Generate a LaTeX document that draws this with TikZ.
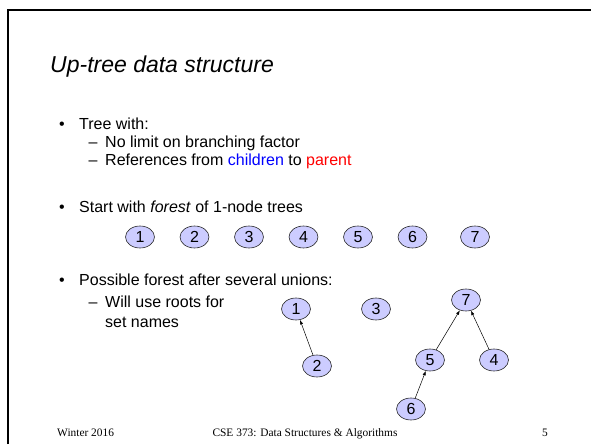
\documentclass[tikz,border=0pt]{standalone}
\usepackage{fontspec}
\setmainfont{Liberation Sans}
\newfontfamily\footfont{Liberation Serif}
\usetikzlibrary{arrows.meta,shapes.geometric}
\definecolor{nodefill}{HTML}{CCCCFF}
\begin{document}
\begin{tikzpicture}[x=1pt,y=-1pt,
  txt/.style={inner sep=0pt, anchor=base west, font=\fontsize{16}{19}\selectfont},
  bul/.style={inner sep=0pt, anchor=base, font=\fontsize{16}{19}\selectfont},
  foot/.style={inner sep=0pt, font=\footfont\fontsize{11.4}{13}\selectfont},
  uel/.style={ellipse, draw=black!85, line width=0.6pt, fill=nodefill,
    minimum width=29pt, minimum height=22pt, inner sep=0pt,
    font=\fontsize{16}{16}\selectfont},
  up/.style={-{Latex[length=4.5pt,width=3.2pt]}, line width=0.5pt}
]
\useasboundingbox (0,0) rectangle (591,444);
\draw[line width=2pt] (8,444) -- (8,10) -- (591,10);

\node[inner sep=0pt, anchor=base west, font=\fontsize{23}{28}\selectfont\itshape] (title) at (50,73) {Up-tree data structure};

\node[bul] (b1) at (62,129) {•};
\node[txt] (t1) at (79,129) {Tree with:};
\node[bul] (d1) at (93,147) {–};
\node[txt] (t2) at (105,147) {No limit on branching factor};
\node[bul] (d2) at (93,165) {–};
\node[txt] (t3) at (105,165) {References from \textcolor{blue}{children} to \textcolor{red}{parent}};
\node[bul] (b2) at (62,212) {•};
\node[txt] (t4) at (79,212) {Start with \textit{forest} of 1-node trees};

\node[uel] (a1) at (140,237) {1};
\node[uel] (a2) at (194.5,237) {2};
\node[uel] (a3) at (249,237) {3};
\node[uel] (a4) at (303.5,237) {4};
\node[uel] (a5) at (358,237) {5};
\node[uel] (a6) at (412.5,237) {6};
\node[uel] (a7) at (475,237) {7};

\node[bul] (b3) at (62,285) {•};
\node[txt] (t5) at (79,285) {Possible forest after several unions:};
\node[bul] (d3) at (93,307) {–};
\node[txt] (t6) at (105,307) {Will use roots for};
\node[txt] (t7) at (105,327) {set names};

\node[uel] (n1) at (296,309) {1};
\node[uel] (n3) at (376,309) {3};
\node[uel] (n7) at (466,300) {7};
\node[uel] (n2) at (317,366) {2};
\node[uel] (n5) at (430,360) {5};
\node[uel] (n4) at (494,360) {4};
\node[uel] (n6) at (411,409) {6};

\draw[up] (n2) -- (n1);
\draw[up] (n5) -- (n7);
\draw[up] (n4) -- (n7);
\draw[up] (n6) -- (n5);

\node[foot, anchor=base west] (f1) at (57,436) {Winter 2016};
\node[foot, anchor=base] (f2) at (305,436) {CSE 373: Data Structures \& Algorithms};
\node[foot, anchor=base] (f3) at (545,436) {5};
\end{tikzpicture}
\end{document}
